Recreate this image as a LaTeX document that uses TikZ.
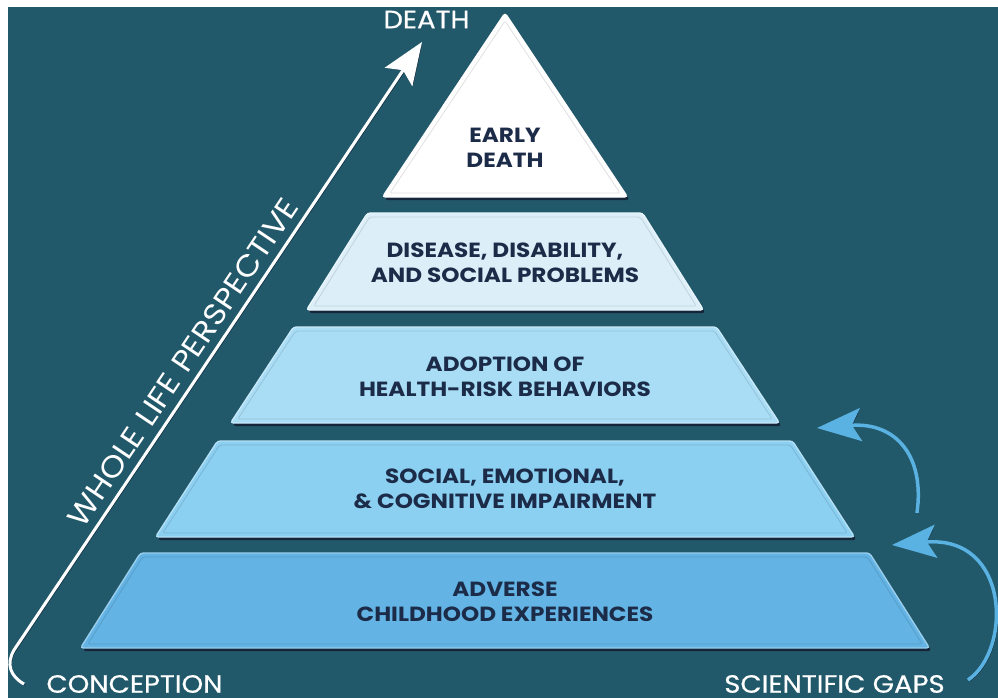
\documentclass[tikz,border=0pt]{standalone}
\usepackage{fontspec}
\setmainfont{Poppins}
\newfontfamily\layerfont{Poppins}[FakeStretch=1.13]
\newfontfamily\labelfont{Poppins}[FakeStretch=1.1,FakeBold=0.6]
\newfontfamily\lightlabelfont{Poppins}[FakeStretch=1.1]
\usetikzlibrary{arrows.meta}
\definecolor{bgteal}{HTML}{22596A}
\definecolor{navytext}{HTML}{1B2B48}
\definecolor{shadowc}{HTML}{15263A}
\definecolor{lay2}{HTML}{DCEFF9}
\definecolor{lay3}{HTML}{A9DDF6}
\definecolor{lay4}{HTML}{8BCFF1}
\definecolor{lay5}{HTML}{63B4E4}
\definecolor{gapblue}{HTML}{5AB2E2}
\newcommand\pyrlayer[5]{%
  \fill[shadowc, rounded corners=3] ({505-#3+2},{#1+3}) -- ({505+#3+2},{#1+3}) -- ({505+#4+2},{#2+3}) -- ({505-#4+2},{#2+3}) -- cycle;
  \filldraw[fill=#5, draw=#5!65!white, line width=1.4, rounded corners=3] ({505-#3},{#1}) -- ({505+#3},{#1}) -- ({505+#4},{#2}) -- ({505-#4},{#2}) -- cycle;
  \draw[#5!88!black, line width=0.8, rounded corners=2] ({505-#3+2.1},{#1+4}) -- ({505+#3-2.1},{#1+4}) -- ({505+#4-7.3},{#2-4}) -- ({505-#4+7.3},{#2-4}) -- cycle;
}
\tikzset{
  layertext/.style={font=\layerfont\bfseries\fontsize{20.5}{25}\selectfont, text=navytext, align=center, inner sep=0},
  whitelabel/.style={font=\labelfont\fontsize{25}{28}\selectfont, text=white, inner sep=0},
  lifearrow/.style={white, line width=3, -{Stealth[length=42pt,width=33pt,inset=8pt]},
    preaction={draw=shadowc, transform canvas={xshift=1.5pt,yshift=-1.5pt}}},
  gaparrow/.style={gapblue, line width=3.5, -{Stealth[length=44pt,width=33pt,inset=9pt]},
    preaction={draw=shadowc, transform canvas={xshift=1.5pt,yshift=-1.5pt}}}
}
\begin{document}
\begin{tikzpicture}[x=1pt,y=-1pt]
\useasboundingbox (0,0) rectangle (998,698);
\fill[white] (0,0) rectangle (998,698);
\fill[bgteal] (8,7) rectangle (998,698);
% top triangle
\fill[shadowc, rounded corners=3] (507,16) -- (629.5,200) -- (384.5,200) -- cycle;
\filldraw[fill=white, draw=white, line width=1.4, rounded corners=3] (505,13) -- (627.5,197) -- (382.5,197) -- cycle;
\draw[black!12, line width=0.8, rounded corners=2] (505,21) -- (620,193) -- (390,193) -- cycle;
\pyrlayer{213}{310}{137.5}{198.5}{lay2}
\pyrlayer{327}{423}{211.5}{274.5}{lay3}
\pyrlayer{441}{537}{287.5}{349.5}{lay4}
\pyrlayer{553}{648}{364.5}{424.5}{lay5}
\node[layertext] (early) at (505,148) {EARLY\\DEATH};
\node[layertext] (disease) at (505,262.5) {DISEASE, DISABILITY,\\AND SOCIAL PROBLEMS};
\node[layertext] (adoption) at (505,376.5) {ADOPTION OF\\HEALTH-RISK BEHAVIORS};
\node[layertext] (social) at (505,488.5) {SOCIAL, EMOTIONAL,\\\& COGNITIVE IMPAIRMENT};
\node[layertext] (adverse) at (505,602) {ADVERSE\\CHILDHOOD EXPERIENCES};
% labels
\node[whitelabel] (death) at (426.5,19.5) {DEATH};
\node[whitelabel] (conception) at (134.5,684) {CONCEPTION};
\node[whitelabel] (gaps) at (834.5,684) {SCIENTIFIC GAPS};
% whole life arrow
\coordinate (lifestart) at (24,684);
\coordinate (lifebend) at (14,650);
\coordinate (lifetip) at (422,42);
\draw[lifearrow] (lifestart) .. controls (10,676) and (6,664) .. (lifebend) -- (lifetip);
\path (lifebend) -- node[pos=0.455, sloped, above=9pt, font=\lightlabelfont\fontsize{30}{32}\selectfont, text=white, inner sep=0] (whole) {WHOLE LIFE PERSPECTIVE} (lifetip);
% scientific gap arrows
\coordinate (gapAstart) at (917,513);
\coordinate (gapAtip) at (817,428);
\draw[gaparrow] (gapAstart) .. controls (925,455) and (895,422) .. (gapAtip);
\coordinate (gapBstart) at (968,680);
\coordinate (gapBtip) at (892,545);
\draw[gaparrow] (gapBstart) .. controls (1012,650) and (1010,535) .. (gapBtip);
\end{tikzpicture}
\end{document}
